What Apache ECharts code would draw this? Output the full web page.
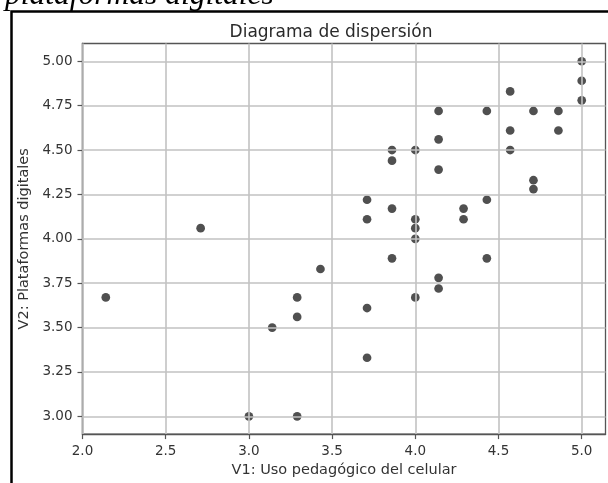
<!DOCTYPE html>
<html>
<head>
<meta charset="utf-8">
<script src="https://cdn.jsdelivr.net/npm/echarts@6/dist/echarts.min.js"></script>
<style>
html,body{margin:0;padding:0;background:#fff;}
#chart{width:608px;height:483px;}
</style>
</head>
<body>
<div id="chart"></div>
<script>
const chartTitle = 'Diagrama de dispersión';
const captionText = 'plataformas digitales';
const xName = 'V1: Uso pedagógico del celular';
const yName = 'V2: Plataformas digitales';

const xValues = [2.14, 2.71, 3.00, 3.14, 3.29, 3.29, 3.29, 3.43,
  3.71, 3.71, 3.71, 3.71, 3.86, 3.86, 3.86, 3.86,
  4.00, 4.00, 4.00, 4.00, 4.00, 4.14, 4.14, 4.14, 4.14, 4.14,
  4.29, 4.29, 4.43, 4.43, 4.43, 4.57, 4.57, 4.57,
  4.71, 4.71, 4.71, 4.86, 4.86, 5.00, 5.00, 5.00];
const yValues = [3.67, 4.06, 3.00, 3.50, 3.67, 3.56, 3.00, 3.83,
  4.22, 4.11, 3.61, 3.33, 4.50, 4.44, 4.17, 3.89,
  4.50, 4.11, 4.06, 4.00, 3.67, 4.72, 4.56, 4.39, 3.78, 3.72,
  4.17, 4.11, 4.72, 4.22, 3.89, 4.83, 4.61, 4.50,
  4.72, 4.33, 4.28, 4.72, 4.61, 5.00, 4.89, 4.78];

const xTicks = [2.0, 2.5, 3.0, 3.5, 4.0, 4.5, 5.0];
const yTicks = [3.00, 3.25, 3.50, 3.75, 4.00, 4.25, 4.50, 4.75, 5.00];
const xRange = [2.0, 5.143];
const yRange = [2.9, 5.1];

const points = xValues.map((x, i) => [x, yValues[i]]);
const gridLines = xTicks.map(v => ({xAxis: v})).concat(yTicks.map(v => ({yAxis: v})));

const chart = echarts.init(document.getElementById('chart'), null, {renderer: 'canvas'});
const font = 'DejaVu Sans';
chart.setOption({
  animation: false,
  backgroundColor: '#ffffff',
  grid: {
    left: 82.5, right: 2.5, top: 43.5, bottom: 48.5,
    show: true, borderColor: '#555', borderWidth: 1.3, backgroundColor: 'transparent'
  },
  graphic: [
    {
      type: 'rect', z: 100, silent: true,
      shape: {x: 11.5, y: 11.5, width: 700, height: 600},
      style: {fill: 'none', stroke: '#000', lineWidth: 2.5}
    },
    {
      type: 'text', z: 100, silent: true,
      style: {
        text: captionText, x: 5, y: 12, align: 'left', verticalAlign: 'bottom',
        font: 'italic 31.5px "Liberation Serif"', fill: '#000'
      }
    },
    {
      type: 'text', z: 100, silent: true,
      style: {
        text: chartTitle, x: 331, y: 33, align: 'center', verticalAlign: 'middle',
        font: '17px "DejaVu Sans"', fill: '#2a2a2a'
      }
    }
  ],
  xAxis: {
    type: 'value', min: xRange[0], max: xRange[1],
    name: xName, nameLocation: 'middle', nameGap: 25,
    nameTextStyle: {fontFamily: font, fontSize: 14.5, color: '#333'},
    axisLine: {show: true, lineStyle: {color: '#555', width: 1.3}},
    axisTick: {show: true, customValues: xTicks, length: 5, lineStyle: {color: '#555', width: 1.2}},
    axisLabel: {customValues: xTicks, formatter: v => v.toFixed(1), margin: 10,
      fontFamily: font, fontSize: 13.5, color: '#333'},
    splitLine: {show: false}
  },
  yAxis: {
    type: 'value', min: yRange[0], max: yRange[1],
    name: yName, nameLocation: 'middle', nameGap: 49, nameRotate: 90,
    nameTextStyle: {fontFamily: font, fontSize: 14.5, color: '#333'},
    axisLine: {show: true, lineStyle: {color: '#555', width: 1.3}},
    axisTick: {show: true, customValues: yTicks, length: 5, lineStyle: {color: '#555', width: 1.2}},
    axisLabel: {customValues: yTicks, formatter: v => v.toFixed(2), margin: 10,
      fontFamily: font, fontSize: 13.5, color: '#333'},
    splitLine: {show: false}
  },
  series: [{
    type: 'scatter',
    data: points,
    symbol: 'circle',
    symbolSize: 8.7,
    itemStyle: {color: '#505050', opacity: 1},
    markLine: {
      silent: true, symbol: ['none', 'none'], animation: false,
      label: {show: false},
      lineStyle: {color: '#c2c2c2', width: 1.6, type: 'solid'},
      emphasis: {disabled: true},
      data: gridLines
    }
  }]
});
</script>
</body>
</html>
